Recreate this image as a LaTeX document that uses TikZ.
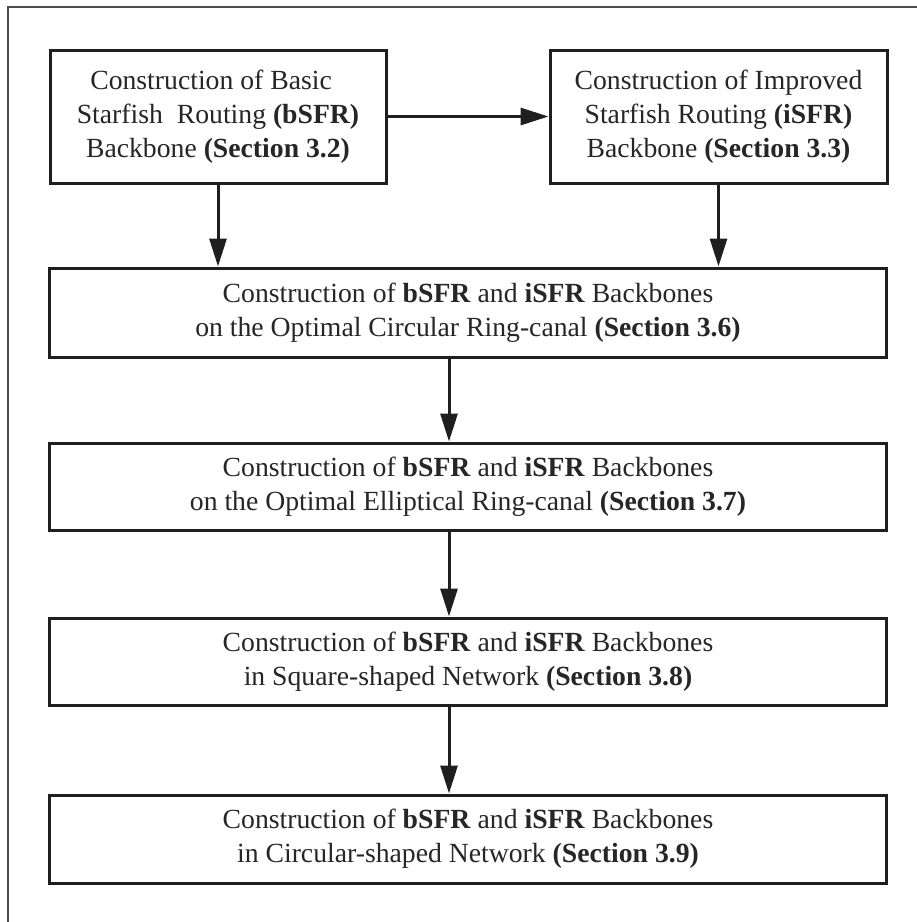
\documentclass[tikz,border=0pt]{standalone}
\usepackage{fontspec}
\setmainfont{Liberation Serif}
\usetikzlibrary{arrows.meta}

\tikzset{
  stage/.style={draw=black!88, line width=3pt, fill=white, inner sep=0pt,
    align=center, font=\fontsize{27.7}{34}\selectfont, text=black!85},
  flow/.style={draw=black!88, line width=3pt,
    -{Triangle[length=28pt,width=17pt]}},
  frame/.style={draw=black!70, line width=1.2pt}
}

\begin{document}
\begin{tikzpicture}[x=1pt,y=-1pt]
  \useasboundingbox (0,0) rectangle (917,922);
  % outer frame (open to the right and bottom)
  \draw[frame] (8,922) -- (8,7) -- (917,7);

  % top row
  \node[stage, minimum width=336pt, minimum height=133pt] (basic) at (218,116.5)
    {Construction of Basic\ \ \mbox{}\\Starfish\ \ Routing \textbf{(bSFR)}\\Backbone \textbf{(Section 3.2)}};
  \node[stage, minimum width=337pt, minimum height=133pt] (improved) at (718.5,116.5)
    {Construction of Improved\\Starfish Routing \textbf{(iSFR)}\\Backbone \textbf{(Section 3.3)}};

  % stacked stages
  \node[stage, minimum width=837pt, minimum height=89pt] (circ) at (468,312.5)
    {Construction of \textbf{bSFR} and \textbf{iSFR} Backbones\\on the Optimal Circular Ring-canal \textbf{(Section 3.6)}};
  \node[stage, minimum width=837pt, minimum height=87pt] (ellip) at (468,486.5)
    {Construction of \textbf{bSFR} and \textbf{iSFR} Backbones\\on the Optimal Elliptical Ring-canal \textbf{(Section 3.7)}};
  \node[stage, minimum width=837pt, minimum height=87pt] (square) at (468,661.5)
    {Construction of \textbf{bSFR} and \textbf{iSFR} Backbones\\in Square-shaped Network \textbf{(Section 3.8)}};
  \node[stage, minimum width=837pt, minimum height=88pt] (circnet) at (468,839)
    {Construction of \textbf{bSFR} and \textbf{iSFR} Backbones\\in Circular-shaped Network \textbf{(Section 3.9)}};

  % connectors
  \coordinate (spine) at (449,0);
  \draw[flow] (basic.east) -- (improved.west);
  \draw[flow] (basic.south) -- (basic.south |- circ.north);
  \draw[flow] (improved.south) -- (improved.south |- circ.north);
  \draw[flow] (circ.south -| spine) -- (ellip.north -| spine);
  \draw[flow] (ellip.south -| spine) -- (square.north -| spine);
  \draw[flow] (square.south -| spine) -- (circnet.north -| spine);
\end{tikzpicture}
\end{document}
